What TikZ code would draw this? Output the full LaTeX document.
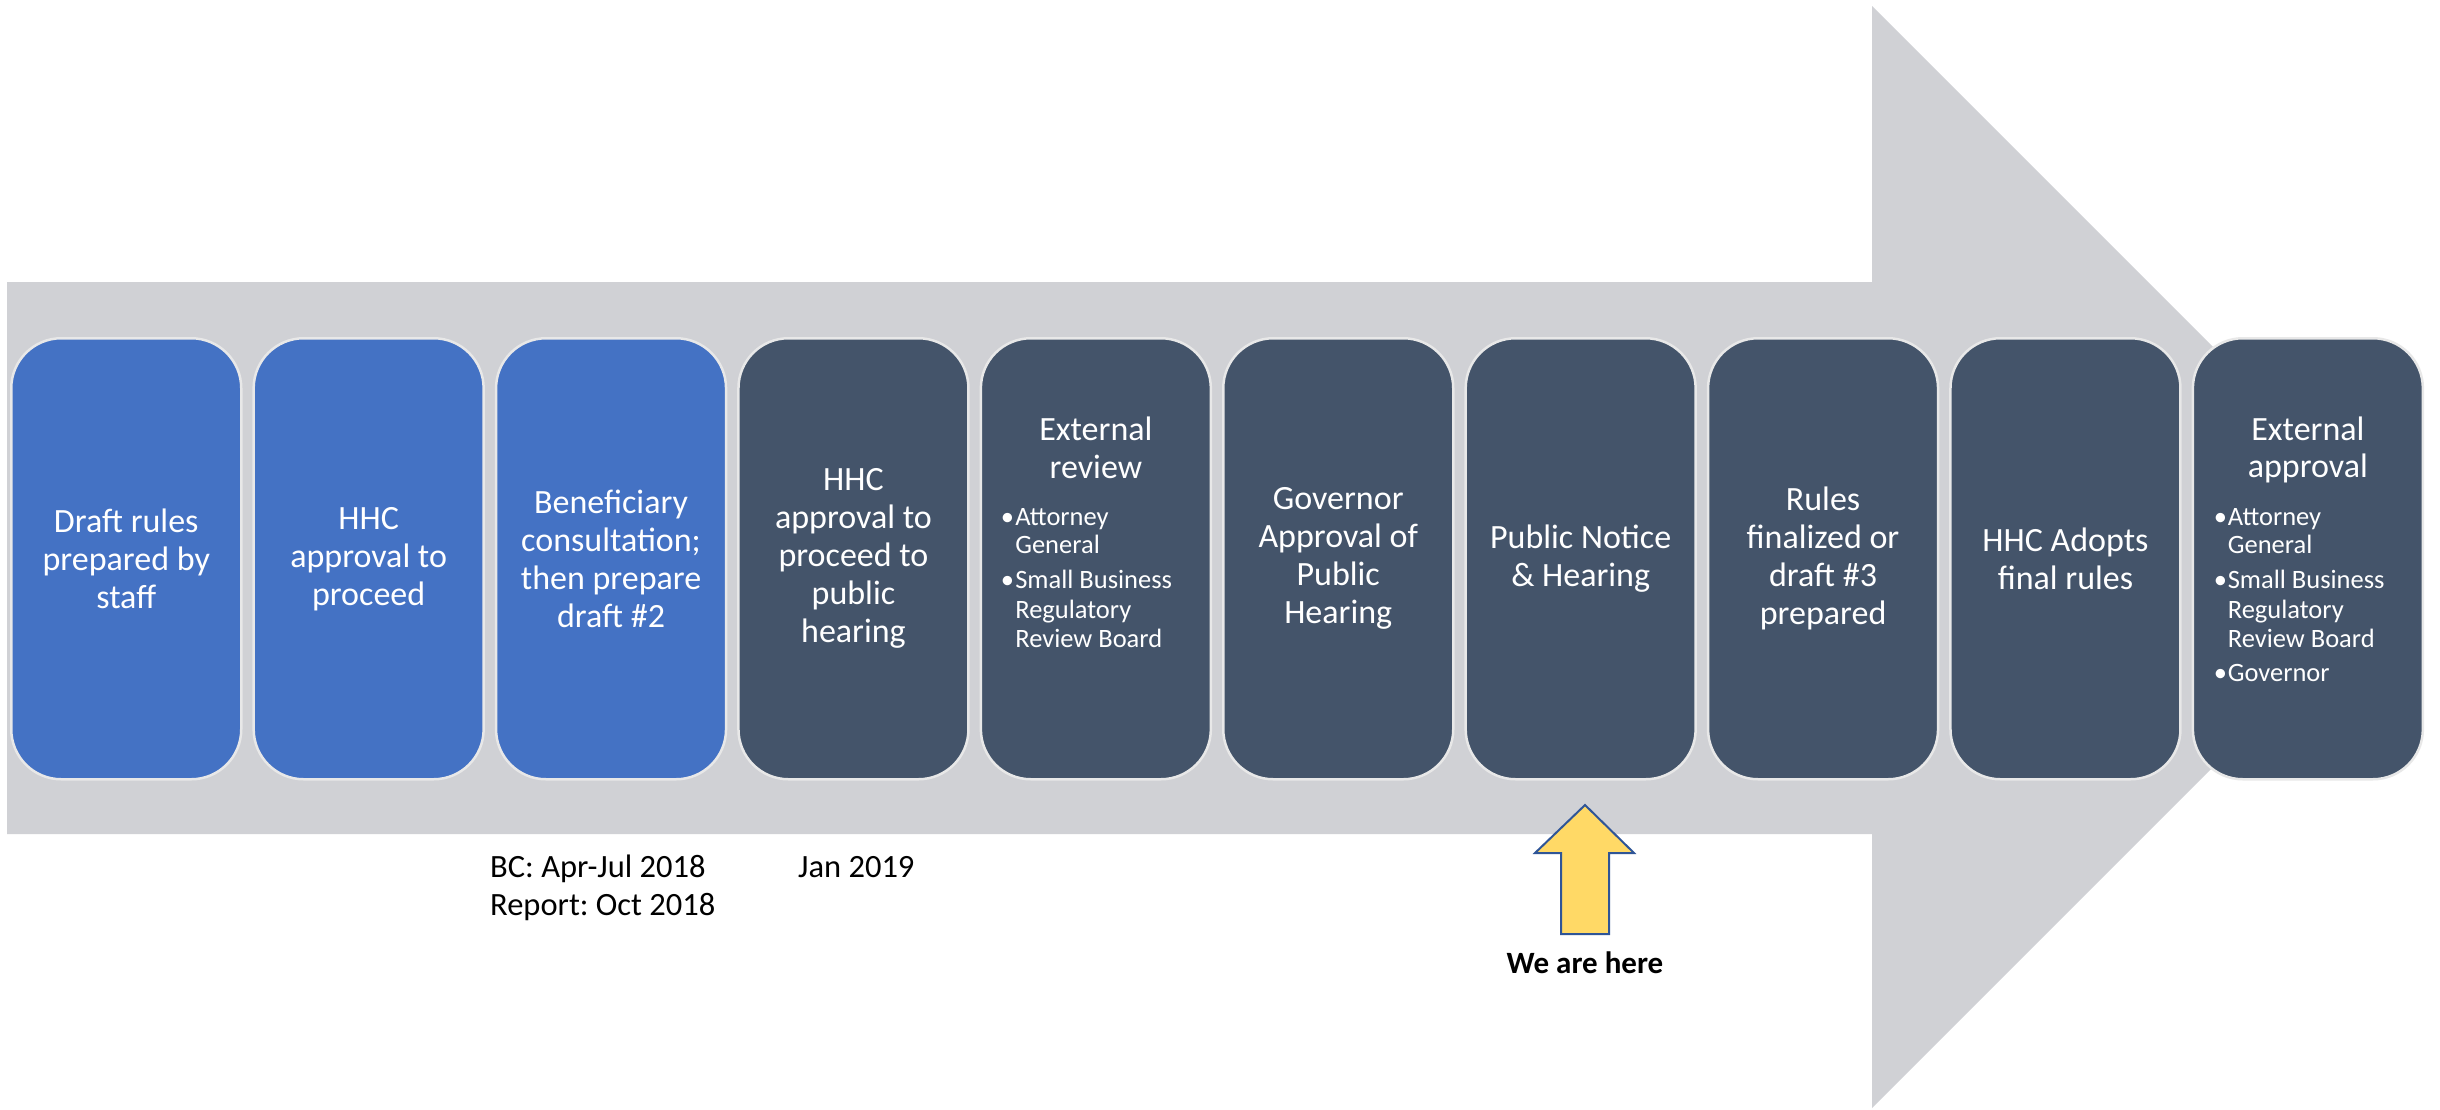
\documentclass[tikz,border=0pt]{standalone}
\usepackage{fontspec}
\setmainfont{Carlito}
\frenchspacing
\definecolor{arrowgray}{RGB}{208,209,213}
\definecolor{boxblue}{RGB}{68,114,196}
\definecolor{boxdark}{RGB}{68,84,106}
\definecolor{boxrim}{RGB}{232,232,232}
\definecolor{hereyellow}{RGB}{255,217,102}
\definecolor{hereblue}{RGB}{47,85,151}
\begin{document}
\begin{tikzpicture}[x=1pt,y=-1pt,
  stepbox/.style={draw=boxrim, line width=2.5pt, rounded corners=50pt,
    minimum width=230pt, minimum height=441pt, anchor=north west,
    inner sep=0pt, text=white, align=center,
    font=\fontsize{34}{38}\selectfont},
  bluebox/.style={stepbox, fill=boxblue},
  darkbox/.style={stepbox, fill=boxdark},
  titleline/.style={anchor=base, inner sep=0pt, text=white, font=\fontsize{34}{38}\selectfont},
  bulletline/.style={anchor=base west, inner sep=0pt, text=white, font=\fontsize{26.5}{28}\selectfont},
  notetext/.style={anchor=base west, inner sep=0pt, text=black, font=\fontsize{32.5}{38}\selectfont}]
\fill[white] (0,0) rectangle (2440,1109);
\useasboundingbox (0,0) rectangle (2440,1109);
% big background arrow
\fill[arrowgray] (7,282) -- (1872,282) -- (1872,6) -- (2423,557) -- (1872,1108) -- (1872,834) -- (7,834) -- cycle;
% step boxes
\node[bluebox] (b1) at (10,337) {Draft rules\\prepared by\\staff};
\node[bluebox] (b2) at (252.4,337) {HHC\\approval to\\proceed};
\node[bluebox] (b3) at (494.8,337) {Beneficiary\\consultation;\\then prepare\\draft \#2};
\node[darkbox] (b4) at (737.2,337) {HHC\\approval to\\proceed to\\public\\hearing};
\node[darkbox] (b5) at (979.6,337) {};
\node[darkbox] (b6) at (1222,337) {Governor\\Approval of\\Public\\Hearing};
\node[darkbox] (b7) at (1464.4,337) {Public Notice\\\& Hearing};
\node[darkbox] (b8) at (1706.8,337) {Rules\\finalized or\\draft \#3\\prepared};
\node[darkbox] (b9) at (1949.2,337) {HHC Adopts\\final rules};
\node[darkbox] (b10) at (2191.6,337) {};
% box 5 text
\node[titleline] (t5a) at ([yshift=-103pt]b5.north) {External};
\node[titleline] (t5b) at ([yshift=-141pt]b5.north) {review};
\node[bulletline] (u5a) at ([xshift=21pt,yshift=-188pt]b5.north west) {•};
\node[bulletline] (l5a) at ([xshift=35.5pt,yshift=-188pt]b5.north west) {Attorney};
\node[bulletline] (l5b) at ([xshift=35.5pt,yshift=-216pt]b5.north west) {General};
\node[bulletline] (u5b) at ([xshift=21pt,yshift=-251pt]b5.north west) {•};
\node[bulletline] (l5c) at ([xshift=35.5pt,yshift=-251pt]b5.north west) {Small Business};
\node[bulletline] (l5d) at ([xshift=35.5pt,yshift=-281pt]b5.north west) {Regulatory};
\node[bulletline] (l5e) at ([xshift=35.5pt,yshift=-310pt]b5.north west) {Review Board};
% box 10 text
\node[titleline] (t10a) at ([yshift=-103pt]b10.north) {External};
\node[titleline] (t10b) at ([yshift=-140pt]b10.north) {approval};
\node[bulletline] (u10a) at ([xshift=22pt,yshift=-188pt]b10.north west) {•};
\node[bulletline] (l10a) at ([xshift=36pt,yshift=-188pt]b10.north west) {Attorney};
\node[bulletline] (l10b) at ([xshift=36pt,yshift=-216pt]b10.north west) {General};
\node[bulletline] (u10b) at ([xshift=22pt,yshift=-251pt]b10.north west) {•};
\node[bulletline] (l10c) at ([xshift=36pt,yshift=-251pt]b10.north west) {Small Business};
\node[bulletline] (l10d) at ([xshift=36pt,yshift=-281pt]b10.north west) {Regulatory};
\node[bulletline] (l10e) at ([xshift=36pt,yshift=-310pt]b10.north west) {Review Board};
\node[bulletline] (u10c) at ([xshift=22pt,yshift=-344pt]b10.north west) {•};
\node[bulletline] (l10f) at ([xshift=36pt,yshift=-344pt]b10.north west) {Governor};
% notes below
\node[notetext] (n1) at (490,877) {BC: Apr-Jul 2018};
\node[notetext] (n2) at (490,915) {Report: Oct 2018};
\node[notetext] (n3) at (798,877) {Jan 2019};
% we are here arrow
\draw[fill=hereyellow, draw=hereblue, line width=2pt, line join=miter]
  (1585,805) -- (1634,853) -- (1609,853) -- (1609,934) -- (1561,934) -- (1561,853) -- (1535,853) -- cycle;
\node[anchor=base, inner sep=0pt, font=\fontsize{31}{34}\selectfont\bfseries] (here) at (1585,973) {We are here};
\end{tikzpicture}
\end{document}
